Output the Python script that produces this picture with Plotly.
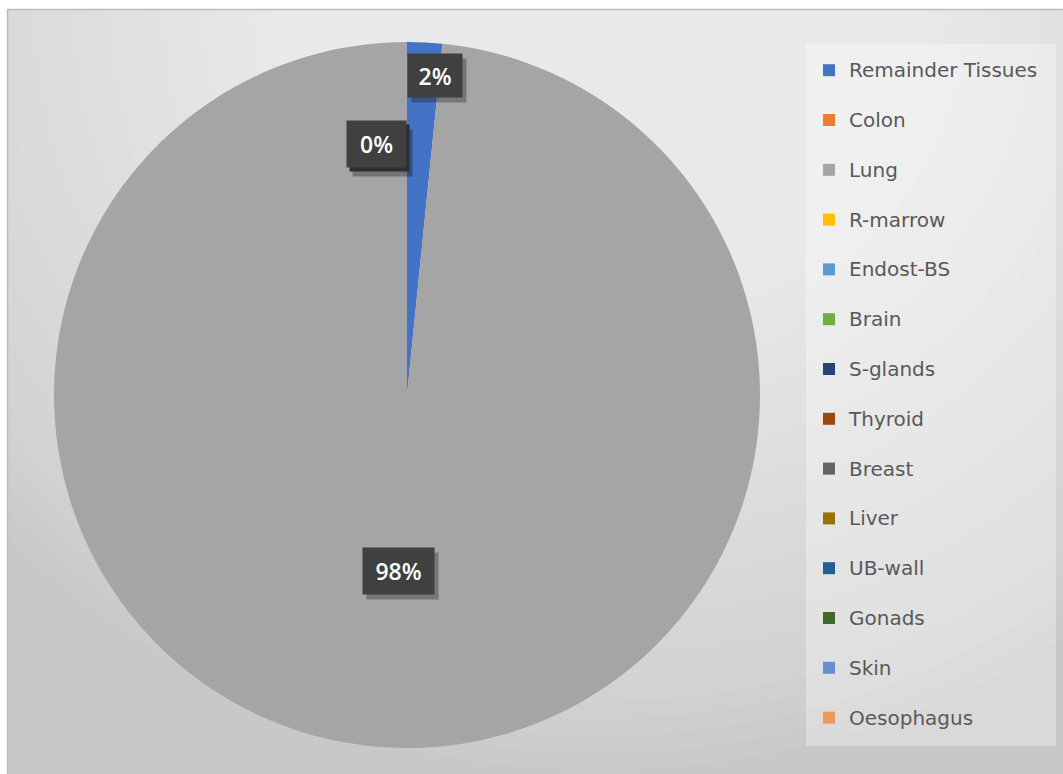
import math
import plotly.graph_objects as go

# ---------------- data ----------------
organs = ["Remainder Tissues", "Colon", "Lung", "R-marrow", "Endost-BS", "Brain",
          "S-glands", "Thyroid", "Breast", "Liver", "UB-wall", "Gonads", "Skin", "Oesophagus"]
shares = [1.6, 0.0, 98.4, 0.0, 0.0, 0.0, 0.0, 0.0, 0.0, 0.0, 0.0, 0.0, 0.0, 0.0]
colors = ["#4472C4", "#ED7D31", "#A5A5A5", "#FFC000", "#5B9BD5", "#70AD47", "#264478",
          "#9E480E", "#636363", "#997300", "#255E91", "#43682B", "#698ED0", "#F1975A"]

# ---------------- layout geometry ----------------
W, H = 1063, 774
CX, CY, R = 407, 395, 353          # pie centre / radius in px
dom_x = [(CX - R) / W, (CX + R) / W]
dom_y = [1 - (CY + R) / H, 1 - (CY - R) / H]

legend_names = [f"<span style='font-size:20px'>{n}</span><br>\u00a0" for n in organs]

fig = go.Figure(go.Pie(
    labels=legend_names,
    values=shares,
    marker=dict(colors=colors, line=dict(width=0)),
    sort=False,
    direction="clockwise",
    rotation=0,
    textinfo="none",
    hovertemplate="%{customdata}: %{percent}<extra></extra>",
    customdata=organs,
    domain=dict(x=dom_x, y=dom_y),
))

# ---------------- background (radial-ish gradient) ----------------
shapes = [dict(type="rect", xref="paper", yref="paper", x0=7 / W, x1=1.0, y0=0, y1=1 - 9 / H,
               fillcolor="#C8C8C8", line=dict(width=0), layer="below")]
GX, GY, RX, RY = 600, 10, 820, 760
N = 45
for i in range(N):
    f = 1 - i / N
    shapes.append(dict(type="circle", xref="paper", yref="paper",
                       x0=(GX - RX * f) / W, x1=(GX + RX * f) / W,
                       y0=1 - (GY + RY * f) / H, y1=1 - (GY - RY * f) / H,
                       fillcolor="rgba(255,255,255,0.042)", line=dict(width=0), layer="below"))
# white outer strips and frame
shapes.append(dict(type="rect", xref="paper", yref="paper", x0=0, x1=1, y0=1 - 9 / H, y1=1.02,
                   fillcolor="white", line=dict(width=0), layer="below"))
shapes.append(dict(type="rect", xref="paper", yref="paper", x0=-0.02, x1=7 / W, y0=0, y1=1,
                   fillcolor="white", line=dict(width=0), layer="below"))
shapes.append(dict(type="line", xref="paper", yref="paper", x0=7 / W, x1=1, y0=1 - 9.5 / H, y1=1 - 9.5 / H,
                   line=dict(color="#BDBDBD", width=1.5), layer="below"))
shapes.append(dict(type="line", xref="paper", yref="paper", x0=7.5 / W, x1=7.5 / W, y0=0, y1=1 - 9 / H,
                   line=dict(color="#BDBDBD", width=1.5), layer="below"))
# legend panel
shapes.append(dict(type="rect", xref="paper", yref="paper", x0=806 / W, x1=1056 / W,
                   y0=1 - 746 / H, y1=1 - 44 / H,
                   fillcolor="rgba(255,255,255,0.32)", line=dict(width=0), layer="below"))

# ---------------- data labels (positions from the slice angles) ----------------
total = sum(shares)
cum = [0.0]
for v in shares:
    cum.append(cum[-1] + v)


def slice_point(angle_frac, rfrac):
    a = 2 * math.pi * angle_frac
    px = CX + R * rfrac * math.sin(a)
    py = CY - R * rfrac * math.cos(a)
    return px / W, 1 - py / H


labels_to_show = [
    # (text, angle fraction, radius fraction, xanchor, box w, box h)
    ("2%", cum[0] / total, 0.905, "left", 54, 43),
    ("98%", (cum[2] + cum[3]) / 2 / total, 0.50, "center", 71, 46),
    ("0%", cum[-1] / total, 0.71, "right", 59, 46),
]

annotations = []
for text, af, rf, xa, bw_, bh_ in labels_to_show:
    x, y = slice_point(af, rf)
    base = dict(x=x, y=y, xref="paper", yref="paper", xanchor=xa, yanchor="middle",
                showarrow=False, borderpad=0, width=bw_, height=bh_)
    font = dict(family="Open Sans", size=23, color="white", weight=600)
    blank = dict(base, text="\u00a0", font=dict(family="Open Sans", size=12, color="rgba(0,0,0,0)"))
    if text == "0%":
        annotations.append(dict(blank, bgcolor="rgba(0,0,0,0.30)", xshift=6, yshift=-9))
        annotations.append(dict(blank, bgcolor="#2E2E2E", xshift=3, yshift=-4))
    else:
        annotations.append(dict(blank, bgcolor="rgba(0,0,0,0.28)", xshift=4, yshift=-5))
    annotations.append(dict(base, text=text, font=font, bgcolor="#404040"))

fig.update_layout(
    width=W, height=H,
    margin=dict(l=0, r=0, t=0, b=0),
    paper_bgcolor="white",
    plot_bgcolor="rgba(0,0,0,0)",
    shapes=shapes,
    annotations=annotations,
    showlegend=True,
    legend=dict(
        x=809 / W, xanchor="left",
        y=1 - 52 / H, yanchor="top",
        bgcolor="rgba(0,0,0,0)", borderwidth=0,
        font=dict(family="DejaVu Sans", size=18, color="#595959"),
        valign="top",
        traceorder="normal",
    ),
)

fig.write_html("out.html")
